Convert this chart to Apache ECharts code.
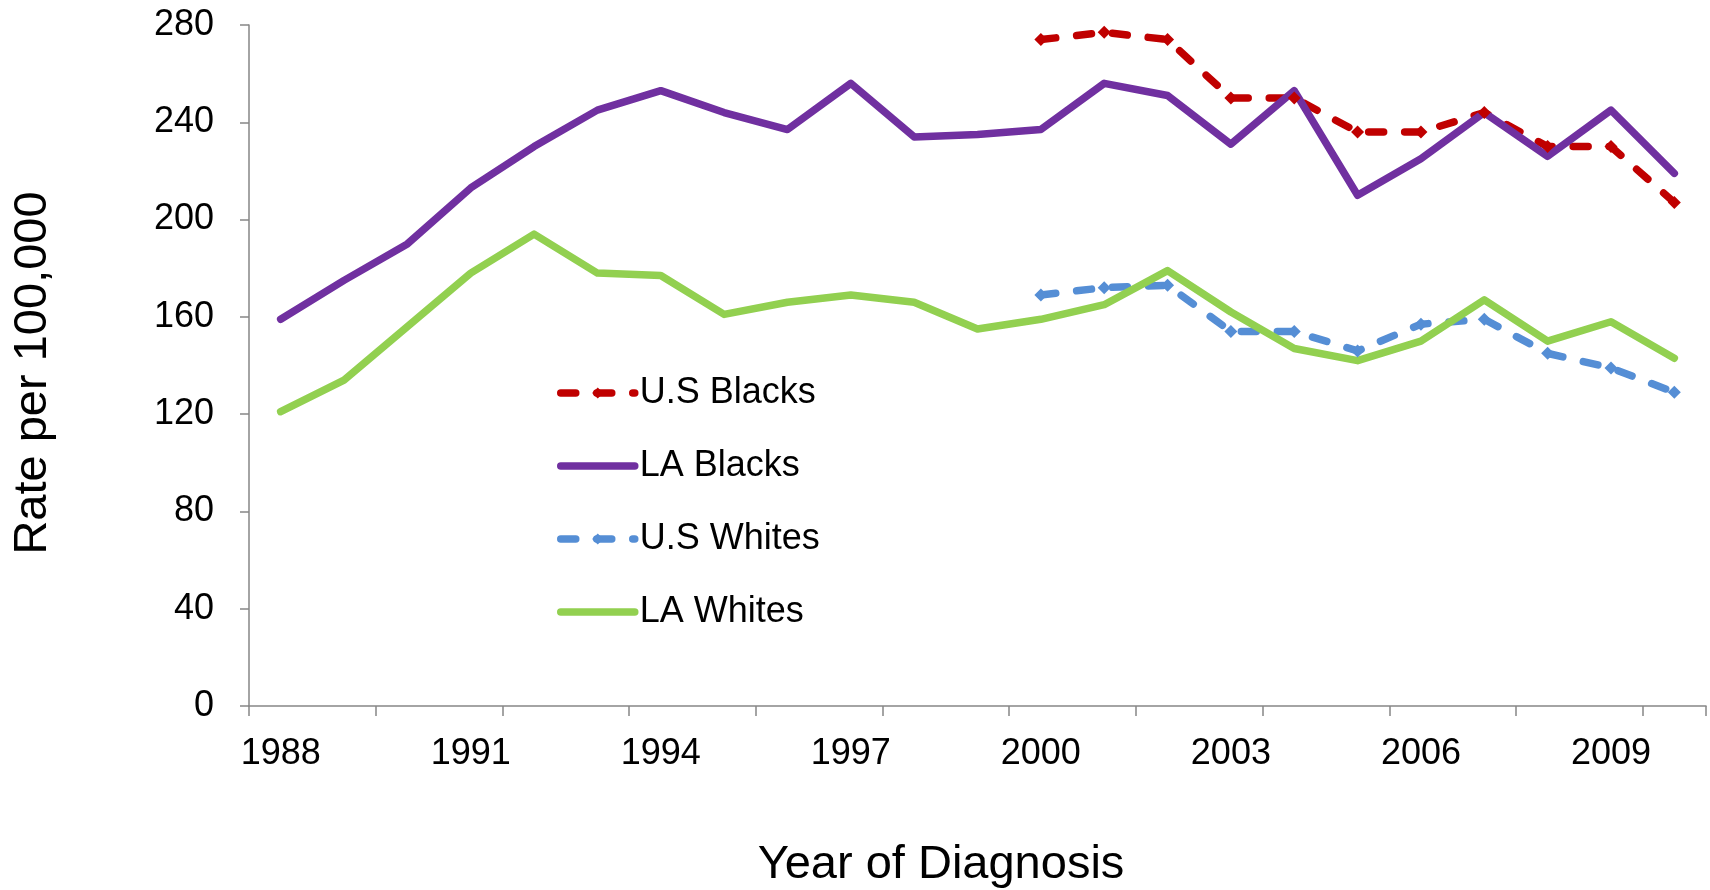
<!DOCTYPE html>
<html>
<head>
<meta charset="utf-8">
<script src="https://cdn.jsdelivr.net/npm/echarts@6/dist/echarts.min.js"></script>
<style>
html,body{margin:0;padding:0;background:#fff;}
#chart{width:1710px;height:890px;}
</style>
</head>
<body>
<div id="chart"></div>
<script>
const years = ['1988','1989','1990','1991','1992','1993','1994','1995','1996','1997','1998','1999','2000','2001','2002','2003','2004','2005','2006','2007','2008','2009','2010'];
const usBlacks = [null,null,null,null,null,null,null,null,null,null,null,null,274,277,274,250,250,236,236,244,230,230,207];
const laBlacks = [159,175,190,213,230,245,253,244,237,256,234,235,237,256,251,231,253,210,225,244,226,245,219];
const usWhites = [null,null,null,null,null,null,null,null,null,null,null,null,169,172,173,154,154,146,157,159,145,139,129];
const laWhites = [121,134,156,178,194,178,177,161,166,169,166,155,159,165,179,162,147,142,150,167,150,158,143];
const seriesNames = ['U.S Blacks','LA Blacks','U.S Whites','LA Whites'];
const seriesColors = ['#C00000','#7030A0','#558ED5','#92D050'];
const xTitle = 'Year of Diagnosis';
const yTitle = 'Rate per 100,000';

const FONT = 'Liberation Sans, Arial, sans-serif';
const LW = 7.5;
const DASH = [15, 21];
const chart = echarts.init(document.getElementById('chart'), null, {renderer:'canvas'});
const dashed = (color) => ({color: color, width: LW, type: DASH, cap: 'round', join: 'round'});
const solid = (color) => ({color: color, width: LW, cap: 'round', join: 'round'});

chart.setOption({
  animation: false,
  backgroundColor: '#ffffff',
  grid: {left: 249, right: 4, top: 25, bottom: 184, containLabel: false},
  legend: {
    orient: 'vertical',
    left: 552,
    top: 370,
    itemWidth: 74,
    itemHeight: 14,
    itemGap: 37,
    textStyle: {fontFamily: FONT, fontSize: 36, color: '#000'},
    data: [
      {name: seriesNames[0], lineStyle: dashed(seriesColors[0]), itemStyle: {color: seriesColors[0]}},
      {name: seriesNames[1], lineStyle: solid(seriesColors[1]), itemStyle: {color: seriesColors[1], opacity: 0}},
      {name: seriesNames[2], lineStyle: dashed(seriesColors[2]), itemStyle: {color: seriesColors[2]}},
      {name: seriesNames[3], lineStyle: solid(seriesColors[3]), itemStyle: {color: seriesColors[3], opacity: 0}}
    ]
  },
  graphic: [
    {type: 'text', x: 941, y: 865,
     style: {text: xTitle, font: '47px ' + FONT, fill: '#000', textAlign: 'center', textVerticalAlign: 'middle'}},
    {type: 'text', rotation: Math.PI / 2, x: 33, y: 373,
     style: {text: yTitle, font: '47px ' + FONT, fill: '#000', textAlign: 'center', textVerticalAlign: 'middle'}}
  ],
  xAxis: {
    type: 'category',
    data: years,
    boundaryGap: true,
    axisLine: {lineStyle: {color: '#868686', width: 1.5}},
    axisTick: {show: true, interval: 1, length: 10, inside: false, lineStyle: {color: '#868686', width: 1.5}},
    axisLabel: {interval: 2, margin: 30, fontFamily: FONT, fontSize: 36, color: '#000'},
    splitLine: {show: false}
  },
  yAxis: {
    type: 'value',
    min: 0, max: 280, interval: 40,
    axisLine: {show: true, lineStyle: {color: '#868686', width: 1.5}},
    axisTick: {show: true, length: 9, lineStyle: {color: '#868686', width: 1.5}},
    axisLabel: {margin: 35, fontFamily: FONT, fontSize: 36, color: '#000'},
    splitLine: {show: false}
  },
  series: [
    {name: seriesNames[0], type: 'line', data: usBlacks, symbol: 'diamond', symbolSize: 13, showSymbol: true,
     itemStyle: {color: seriesColors[0]}, lineStyle: dashed(seriesColors[0])},
    {name: seriesNames[1], type: 'line', data: laBlacks, symbol: 'none',
     itemStyle: {color: seriesColors[1]}, lineStyle: solid(seriesColors[1])},
    {name: seriesNames[2], type: 'line', data: usWhites, symbol: 'diamond', symbolSize: 13, showSymbol: true,
     itemStyle: {color: seriesColors[2]}, lineStyle: dashed(seriesColors[2])},
    {name: seriesNames[3], type: 'line', data: laWhites, symbol: 'none',
     itemStyle: {color: seriesColors[3]}, lineStyle: solid(seriesColors[3])}
  ]
});
</script>
</body>
</html>
